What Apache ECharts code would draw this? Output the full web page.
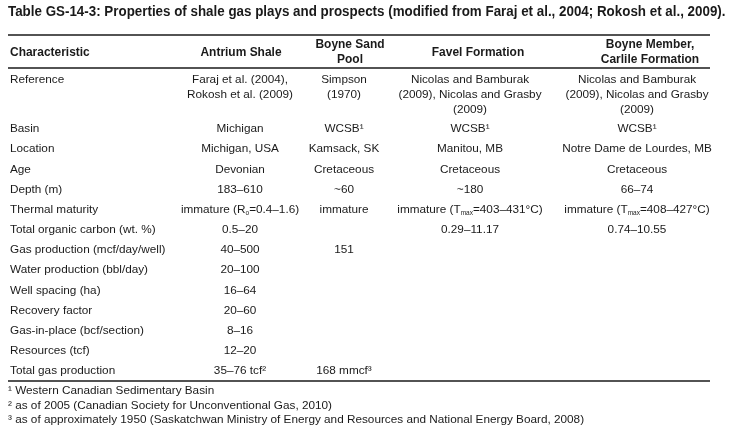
<!DOCTYPE html>
<html>
<head>
<meta charset="utf-8">
<script src="https://cdn.jsdelivr.net/npm/echarts@6/dist/echarts.min.js"></script>
<style>
  html, body { margin: 0; padding: 0; background: #fff; }
  #main { width: 736px; height: 431px; }
</style>
</head>
<body>
<div id="main"></div>
<script>
// table content
var title = 'Table GS-14-3: Properties of shale gas plays and prospects (modified from Faraj et al., 2004; Rokosh et al., 2009).';
var headers = ['Characteristic', 'Antrium Shale', 'Boyne Sand\nPool', 'Favel Formation', 'Boyne Member,\nCarlile Formation'];
var characteristics = ['Reference', 'Basin', 'Location', 'Age', 'Depth (m)', 'Thermal maturity',
    'Total organic carbon (wt. %)', 'Gas production (mcf/day/well)', 'Water production (bbl/day)',
    'Well spacing (ha)', 'Recovery factor', 'Gas-in-place (bcf/section)', 'Resources (tcf)', 'Total gas production'];
var antrium = ['Faraj et al. (2004),\nRokosh et al. (2009)', 'Michigan', 'Michigan, USA', 'Devonian', '183–610',
    'immature (R{sub|o}=0.4–1.6)', '0.5–20', '40–500', '20–100', '16–64', '20–60', '8–16', '12–20', '35–76 tcf²'];
var boyneSand = ['Simpson\n(1970)', 'WCSB¹', 'Kamsack, SK', 'Cretaceous', '~60', 'immature', '', '151',
    '', '', '', '', '', '168 mmcf³'];
var favel = ['Nicolas and Bamburak\n(2009), Nicolas and Grasby\n(2009)', 'WCSB¹', 'Manitou, MB', 'Cretaceous', '~180',
    'immature (T{sub|max}=403–431°C)', '0.29–11.17', '', '', '', '', '', '', ''];
var boyneMember = ['Nicolas and Bamburak\n(2009), Nicolas and Grasby\n(2009)', 'WCSB¹', 'Notre Dame de Lourdes, MB', 'Cretaceous', '66–74',
    'immature (T{sub|max}=408–427°C)', '0.74–10.55', '', '', '', '', '', '', ''];
var footnotes = [
    '¹ Western Canadian Sedimentary Basin',
    '² as of 2005 (Canadian Society for Unconventional Gas, 2010)',
    '³ as of approximately 1950 (Saskatchwan Ministry of Energy and Resources and National Energy Board, 2008)'
];

var myChart = echarts.init(document.getElementById('main'));

var font = '"Liberation Sans", Arial, sans-serif';
var left = 8, right = 710;
var colX = [10, 240, 344, 470, 637];
var headX = [10, 241, 350, 478, 650];
var rowY = [80, 129];
for (var i = 2; i < characteristics.length; i++) {
    rowY.push(129 + (i - 1) * 20.17);
}

var elements = [];

function txt(x, y, s, opt) {
    opt = opt || {};
    elements.push({
        type: 'text',
        x: x,
        y: y,
        scaleX: opt.sx || 1,
        silent: true,
        style: {
            text: s,
            fill: '#1a1a1a',
            font: (opt.bold ? 'bold ' : '') + (opt.size || 11.75) + 'px ' + font,
            align: opt.align || 'left',
            verticalAlign: 'middle',
            lineHeight: opt.lh || 15,
            rich: {
                sub: { fontSize: 6.5, fontFamily: font, verticalAlign: 'bottom', lineHeight: 15, fill: '#1a1a1a' }
            }
        }
    });
}

function hline(y, w) {
    elements.push({
        type: 'line',
        silent: true,
        shape: { x1: left, y1: y, x2: right, y2: y },
        style: { stroke: '#1a1a1a', lineWidth: w }
    });
}

// title
txt(8, 12, title, { bold: true, size: 14, sx: 0.955 });

// rules
hline(35, 1.6);
hline(68, 1.4);
hline(381, 1.6);

// header
headers.forEach(function (h, i) {
    txt(headX[i], 52, h, { bold: true, size: 13, sx: 0.92, align: i === 0 ? 'left' : 'center', lh: 15 });
});

// body
var cols = [characteristics, antrium, boyneSand, favel, boyneMember];
cols.forEach(function (col, c) {
    col.forEach(function (v, r) {
        if (!v) return;
        var lines = v.split('\n').length;
        var y = rowY[r] + (lines - 1) * 7.5;
        txt(colX[c], y, v, { align: c === 0 ? 'left' : 'center' });
    });
});

// footnotes
footnotes.forEach(function (f, i) {
    txt(8, 391 + i * 14.5, f, {});
});

option = {
    backgroundColor: '#ffffff',
    animation: false,
    graphic: elements
};
myChart.setOption(option);
</script>
</body>
</html>
